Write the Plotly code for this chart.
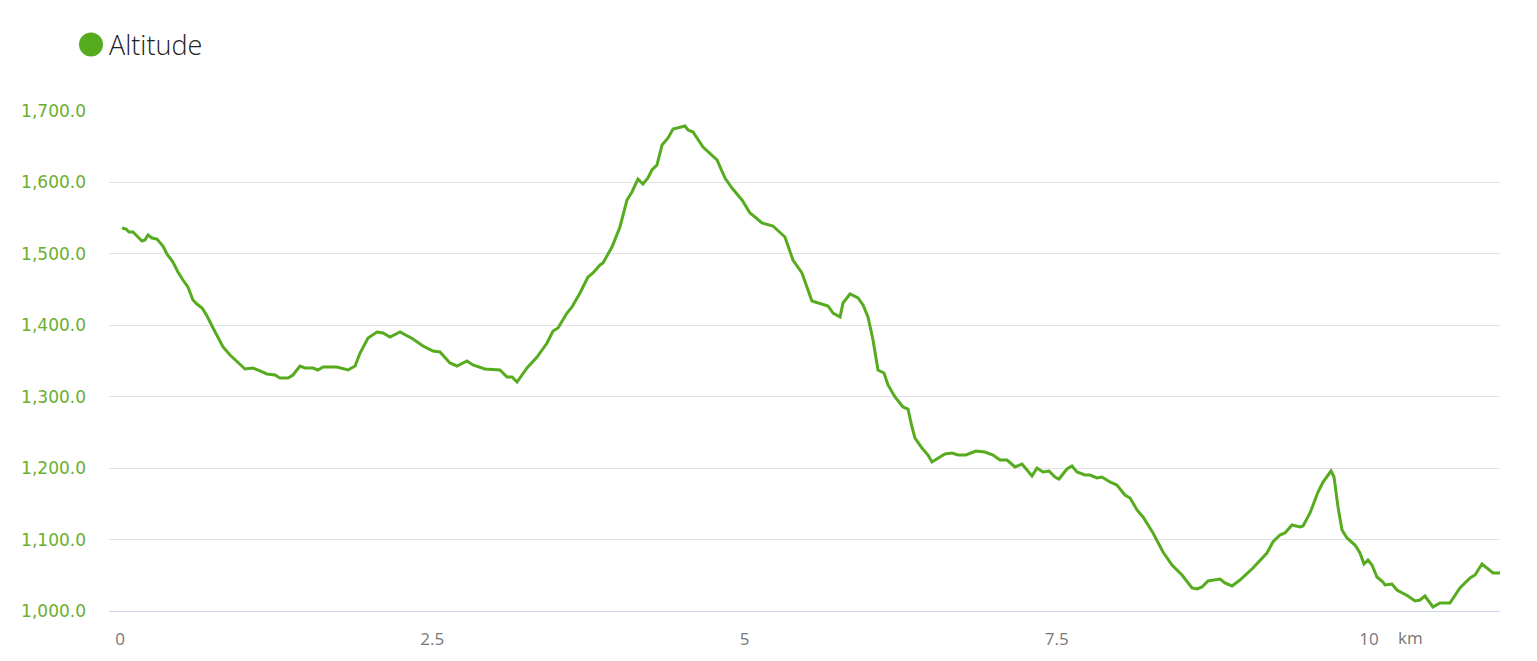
import plotly.graph_objects as go

distance_km = [0.016, 0.048, 0.072, 0.104, 0.136, 0.176, 0.200, 0.224, 0.256, 0.296,
               0.344, 0.376, 0.424, 0.464, 0.504, 0.544, 0.584, 0.616, 0.657, 0.697,
               0.745, 0.785, 0.825, 0.881, 0.937, 1.001, 1.065, 1.121, 1.177, 1.241,
               1.281, 1.345, 1.385, 1.441, 1.481, 1.545, 1.585, 1.625, 1.681, 1.737,
               1.826, 1.882, 1.922, 1.986, 2.058, 2.106, 2.162, 2.242, 2.346, 2.426,
               2.506, 2.562, 2.642, 2.698, 2.778, 2.826, 2.922, 3.042, 3.099, 3.139,
               3.179, 3.259, 3.339, 3.419, 3.467, 3.507, 3.579, 3.619, 3.683, 3.747,
               3.787, 3.843, 3.867, 3.939, 4.003, 4.059, 4.099, 4.147, 4.187, 4.227,
               4.259, 4.299, 4.340, 4.388, 4.428, 4.524, 4.548, 4.588, 4.668, 4.740,
               4.780, 4.844, 4.900, 4.980, 5.044, 5.084, 5.140, 5.228, 5.284, 5.324,
               5.388, 5.428, 5.460, 5.540, 5.669, 5.709, 5.765, 5.789, 5.845, 5.909,
               5.949, 5.989, 6.029, 6.069, 6.117, 6.149, 6.205, 6.269, 6.309, 6.341,
               6.365, 6.421, 6.469, 6.501, 6.549, 6.605, 6.661, 6.709, 6.773, 6.821,
               6.853, 6.925, 6.990, 7.046, 7.102, 7.166, 7.222, 7.302, 7.342, 7.390,
               7.438, 7.486, 7.518, 7.582, 7.622, 7.662, 7.726, 7.766, 7.822, 7.862,
               7.926, 7.982, 8.046, 8.087, 8.143, 8.191, 8.271, 8.351, 8.423, 8.503,
               8.583, 8.623, 8.663, 8.711, 8.807, 8.847, 8.903, 8.967, 9.071, 9.183,
               9.231, 9.287, 9.327, 9.384, 9.448, 9.472, 9.528, 9.592, 9.632, 9.696,
               9.720, 9.752, 9.784, 9.824, 9.888, 9.928, 9.960, 9.992, 10.024, 10.064,
               10.112, 10.128, 10.184, 10.224, 10.272, 10.312, 10.368, 10.408, 10.448, 10.512,
               10.568, 10.648, 10.728, 10.809, 10.849, 10.905, 10.993, 11.049]

altitude_m = [1536.2, 1534.8, 1530.6, 1530.6, 1525.0, 1518.0, 1519.4, 1526.4, 1522.2, 1520.8,
              1511.0, 1499.8, 1488.6, 1474.6, 1463.4, 1453.6, 1435.4, 1429.8, 1424.2, 1413.0,
              1396.2, 1383.6, 1369.6, 1358.4, 1348.6, 1338.8, 1340.2, 1336.0, 1331.8, 1330.4,
              1326.2, 1326.2, 1330.4, 1343.0, 1340.2, 1340.2, 1337.4, 1341.6, 1341.6, 1341.6,
              1337.4, 1343.0, 1361.2, 1382.2, 1390.6, 1389.2, 1383.6, 1390.6, 1380.8, 1371.0,
              1364.0, 1362.6, 1347.2, 1343.0, 1350.0, 1344.4, 1338.8, 1337.4, 1327.6, 1327.6,
              1320.6, 1340.2, 1355.6, 1375.2, 1392.0, 1396.2, 1417.2, 1425.6, 1445.2, 1467.6,
              1473.2, 1484.4, 1487.2, 1509.6, 1537.6, 1575.4, 1586.6, 1604.8, 1597.8, 1606.2,
              1617.4, 1624.4, 1652.4, 1662.2, 1674.8, 1679.0, 1673.4, 1670.6, 1649.6, 1638.4,
              1631.4, 1606.2, 1592.2, 1575.4, 1557.2, 1551.6, 1543.2, 1539.0, 1530.6, 1523.6,
              1491.4, 1480.2, 1473.2, 1434.0, 1427.0, 1417.2, 1411.6, 1431.2, 1443.8, 1438.2,
              1428.4, 1411.6, 1379.4, 1337.4, 1333.2, 1316.4, 1299.6, 1285.6, 1282.8, 1257.6,
              1242.2, 1228.2, 1218.4, 1208.6, 1214.2, 1219.8, 1221.2, 1218.4, 1218.4, 1221.2,
              1224.0, 1222.6, 1218.4, 1211.4, 1211.4, 1201.6, 1205.8, 1189.0, 1200.2, 1194.6,
              1196.0, 1187.6, 1184.8, 1198.8, 1203.0, 1194.6, 1190.4, 1190.4, 1186.2, 1187.6,
              1180.6, 1176.4, 1162.4, 1158.2, 1141.4, 1131.6, 1109.2, 1082.6, 1064.4, 1050.4,
              1032.2, 1030.8, 1033.6, 1042.0, 1044.8, 1039.2, 1035.0, 1043.4, 1060.2, 1081.2,
              1096.6, 1106.4, 1109.2, 1120.4, 1117.6, 1119.0, 1137.2, 1166.6, 1180.6, 1196.0,
              1187.6, 1145.6, 1113.4, 1102.2, 1092.4, 1081.2, 1065.8, 1071.4, 1064.4, 1047.6,
              1040.6, 1036.4, 1037.8, 1029.4, 1025.2, 1021.0, 1014.0, 1015.4, 1021.0, 1005.6,
              1011.2, 1011.2, 1032.2, 1046.2, 1050.4, 1065.8, 1053.2, 1053.2]

x_tick_vals = [0, 2.5, 5, 7.5, 10]
x_tick_text = ["0", "2.5", "5", "7.5", "10"]
y_tick_vals = [1000, 1100, 1200, 1300, 1400, 1500, 1600, 1700]
series_name = "Altitude"
unit_label = "km"

GREEN = "#56ab1e"

fig = go.Figure()
fig.add_trace(go.Scatter(
    x=distance_km, y=altitude_m, mode="lines", name=series_name,
    line=dict(color=GREEN, width=3), showlegend=False,
))

fig.update_layout(
    width=1537, height=661,
    margin=dict(l=109, r=37, t=111, b=50),
    paper_bgcolor="white", plot_bgcolor="white",
    xaxis=dict(
        range=[-0.088, 11.049], tickvals=x_tick_vals, ticktext=x_tick_text,
        showgrid=False, zeroline=False, showline=True, linecolor="#ccd6eb", linewidth=1,
        ticks="", ticklabelstandoff=13,
        tickfont=dict(family="Open Sans", size=17, color="#777777"),
    ),
    yaxis=dict(
        range=[1000, 1700], tickvals=y_tick_vals, tickformat=",.1f",
        showgrid=True, gridcolor="#e2e2e2", gridwidth=1, zeroline=False,
        ticks="", ticklabelstandoff=22,
        tickfont=dict(family="DejaVu Sans", size=17, color="#6aae2e"),
    ),
    shapes=[dict(
        type="circle", xref="paper", yref="paper",
        xsizemode="pixel", ysizemode="pixel",
        xanchor=(91 - 109) / 1391, yanchor=(611 - 44.5) / 500,
        x0=-12, x1=12, y0=-12, y1=12,
        fillcolor=GREEN, line=dict(width=0),
    )],
    annotations=[
        dict(text=series_name, xref="paper", yref="paper",
             x=(107 - 109) / 1391, y=(611 - 44) / 500, xanchor="left", yanchor="middle",
             showarrow=False, font=dict(family="Open Sans", size=27, color="#222222", weight=300)),
        dict(text=unit_label, xref="paper", yref="paper",
             x=(1410 - 109) / 1391, y=(611 - 637) / 500, xanchor="center", yanchor="middle",
             showarrow=False, font=dict(family="Open Sans", size=17, color="#777777")),
    ],
)

fig.write_html("out.html", config={"displayModeBar": False},
               post_script="document.body.style.margin='0';document.body.style.overflow='hidden';")
